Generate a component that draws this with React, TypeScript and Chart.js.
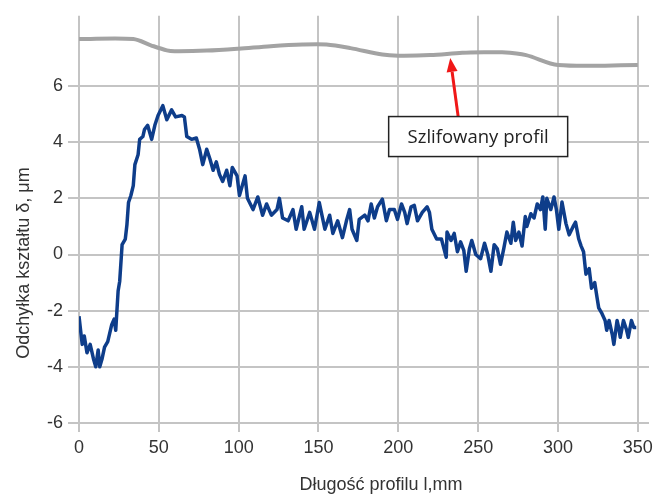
import { useEffect, useRef } from 'react';
import { Chart, registerables } from 'chart.js';

Chart.register(...registerables);

// Measured profile (blue) – position along profile [mm] and deviation [µm]
const profileX = [
  0, 2, 3.3, 5, 7, 9, 10.5, 12, 13, 14.5, 16, 18, 20.5, 22, 23, 24.5, 25.5, 27, 29, 30,
  31, 32.5, 34, 35, 37, 38, 40, 41, 43, 45.5, 47.5, 49.5, 52.5, 55, 58, 60.5, 64.5, 66, 67.5, 70.5,
  73.5, 75.5, 77.5, 80, 82, 84, 86, 88, 90, 92.5, 94.5, 96, 99, 100.5, 104, 105.5, 109, 112, 115, 117.5,
  120.5, 124, 125.5, 127.5, 131, 134, 136, 139.5, 141, 144.5, 147.5, 150.5, 154, 157, 159, 162, 165, 167.5, 169.5, 171,
  174, 175.5, 179, 181, 183, 185, 187, 190, 192.5, 194.5, 197.5, 199.5, 202, 204, 205.5, 208, 210, 212, 215, 218,
  219.5, 221, 224, 227, 230, 230.5, 233, 235, 237, 239, 241, 242.5, 244.5, 246, 248.5, 251.5, 254, 256, 258, 260,
  262, 264, 266, 268, 270.5, 272, 273.5, 275.5, 277.5, 279.5, 280.5, 283, 285, 287, 289, 290.5, 292, 293, 295.5, 297.5,
  299, 300.5, 302.5, 305, 307, 309.5, 311, 313, 314.5, 316, 317.5, 319.5, 321, 323, 324.5, 325.5, 327.5, 329.5, 330.5, 332,
  334, 335, 337, 338, 339, 341, 343, 344, 346, 347.5, 349,
];
const profileY = [
  -2.2, -3.2, -2.9, -3.5, -3.2, -3.7, -4.0, -3.4, -4.0, -3.7, -3.3, -3.1, -2.5, -2.3, -2.7, -1.3, -0.95, 0.35, 0.55, 1.05,
  1.85, 2.1, 2.45, 3.2, 3.55, 4.1, 4.2, 4.45, 4.6, 4.1, 4.6, 4.95, 5.3, 4.8, 5.15, 4.9, 4.95, 4.9, 4.2, 4.1,
  4.15, 3.75, 3.2, 3.75, 3.4, 3.0, 3.3, 2.85, 2.6, 3.0, 2.45, 3.1, 2.8, 2.1, 2.8, 2.0, 1.6, 2.05, 1.4, 1.8,
  1.4, 1.6, 2.0, 1.3, 1.2, 1.6, 0.9, 1.7, 0.9, 1.5, 0.9, 1.85, 0.9, 1.4, 0.75, 1.2, 0.6, 1.2, 1.6, 0.9,
  0.5, 1.25, 1.4, 1.2, 1.8, 1.3, 1.7, 1.97, 1.2, 1.6, 1.6, 1.25, 1.8, 1.5, 1.1, 1.7, 1.75, 1.2, 1.5, 1.7,
  1.5, 0.9, 0.55, 0.55, -0.1, 0.8, 0.5, 0.75, 0.1, 0.45, 0.15, -0.6, 0.2, 0.5, 0.0, -0.15, 0.4, 0.0, -0.6, 0.35,
  0.2, -0.35, 0.2, 0.8, 0.4, 1.15, 0.5, 0.8, 0.3, 1.35, 1.0, 1.45, 1.3, 1.8, 1.6, 2.05, 0.9, 2.0, 1.6, 2.05,
  1.6, 0.9, 1.87, 1.1, 0.7, 1.0, 1.15, 0.55, 0.3, 0.1, -0.7, -0.5, -1.2, -1.0, -1.55, -1.9, -2.1, -2.35, -2.7, -2.35,
  -2.85, -3.2, -2.35, -2.6, -2.95, -2.35, -2.7, -2.95, -2.35, -2.6, -2.6,
];

// Ground profile (grey)
const groundX = [0, 34, 45, 55, 60, 80, 100, 120, 140, 155, 170, 190, 200, 220, 240, 255, 265, 280, 300, 350];
const groundY = [7.67, 7.67, 7.45, 7.27, 7.24, 7.26, 7.33, 7.42, 7.48, 7.48, 7.35, 7.12, 7.08, 7.1, 7.18, 7.2, 7.2, 7.1, 6.75, 6.75];

const xTitle = 'Długość profilu l,mm';
const yTitle = 'Odchyłka kształtu δ, μm';
const noteText = 'Szlifowany profil';
const noteCenter = { x: 250, y: 4.2 };
const arrowFrom = { x: 237.5, y: 4.9 };
const arrowTo = { x: 232.5, y: 7.0 };

const FONT = '"Liberation Sans", Arial, sans-serif';
const TEXT = '#333333';
const GRID = '#c4c4c4';

const overlayPlugin = {
  id: 'overlay',
  afterDraw(chart: any) {
    const { ctx, scales } = chart;
    const xs = scales.x;
    const ys = scales.y;
    ctx.save();
    // Axis titles
    ctx.fillStyle = TEXT;
    ctx.font = `18px ${FONT}`;
    ctx.textAlign = 'center';
    ctx.textBaseline = 'middle';
    ctx.fillText(xTitle, 381, 485);
    ctx.save();
    ctx.translate(24, 263);
    ctx.rotate(-Math.PI / 2);
    ctx.fillText(yTitle, 0, 0);
    ctx.restore();

    // Arrow
    const x1 = xs.getPixelForValue(arrowFrom.x);
    const y1 = ys.getPixelForValue(arrowFrom.y);
    const x2 = xs.getPixelForValue(arrowTo.x);
    const y2 = ys.getPixelForValue(arrowTo.y);
    const ang = Math.atan2(y2 - y1, x2 - x1);
    const headLen = 14;
    const headW = 5.5;
    const bx = x2 - headLen * Math.cos(ang);
    const by = y2 - headLen * Math.sin(ang);
    ctx.strokeStyle = '#f01818';
    ctx.fillStyle = '#f01818';
    ctx.lineWidth = 3;
    ctx.beginPath();
    ctx.moveTo(x1, y1);
    ctx.lineTo(bx, by);
    ctx.stroke();
    ctx.beginPath();
    ctx.moveTo(x2, y2);
    ctx.lineTo(bx + headW * Math.sin(ang), by - headW * Math.cos(ang));
    ctx.lineTo(bx - headW * Math.sin(ang), by + headW * Math.cos(ang));
    ctx.closePath();
    ctx.fill();

    // Note box
    const cx = xs.getPixelForValue(noteCenter.x);
    const cy = ys.getPixelForValue(noteCenter.y);
    const w = 179;
    const h = 40;
    ctx.fillStyle = '#ffffff';
    ctx.fillRect(cx - w / 2, cy - h / 2, w, h);
    ctx.strokeStyle = '#222222';
    ctx.lineWidth = 1.5;
    ctx.strokeRect(cx - w / 2, cy - h / 2, w, h);
    ctx.fillStyle = '#222222';
    ctx.font = '18.5px "Open Sans", "Noto Sans", sans-serif';
    ctx.textAlign = 'center';
    ctx.textBaseline = 'middle';
    ctx.fillText(noteText, cx, cy + 1);
    ctx.restore();
  },
};

export default function App() {
  const ref = useRef<HTMLCanvasElement>(null);
  useEffect(() => {
    if (!ref.current) return;
    const chart = new Chart(ref.current, {
      type: 'line',
      data: {
        datasets: [
          {
            data: groundX.map((x, i) => ({ x, y: groundY[i] })),
            borderColor: '#a3a3a3',
            borderWidth: 4,
            pointRadius: 0,
            tension: 0.3,
          },
          {
            data: profileX.map((x, i) => ({ x, y: profileY[i] })),
            borderColor: '#0e3d8a',
            borderWidth: 3.5,
            borderJoinStyle: 'round',
            pointRadius: 0,
            tension: 0,
          },
        ],
      },
      options: {
        responsive: false,
        animation: false,
        layout: { padding: { top: 13, right: 8, left: 0, bottom: 0 } },
        plugins: { legend: { display: false }, tooltip: { enabled: false } },
        scales: {
          x: {
            type: 'linear',
            min: 0,
            max: 357,
            ticks: { stepSize: 50, includeBounds: false, color: TEXT, font: { family: FONT, size: 18 }, padding: 5, maxRotation: 0 },
            grid: { color: GRID, lineWidth: 2, tickLength: 9 },
            border: { display: false },
            afterFit: (s: any) => { s.height = 73; },
          },
          y: {
            type: 'linear',
            min: -6,
            max: 8.5,
            ticks: { stepSize: 2, includeBounds: false, color: TEXT, font: { family: FONT, size: 18 }, padding: 5 },
            grid: { color: GRID, lineWidth: 2, tickLength: 11 },
            border: { display: false },
            afterBuildTicks: (s: any) => { s.ticks = s.ticks.filter((t: any) => t.value <= 6); },
            afterFit: (s: any) => { s.width = 79; },
          },
        },
      } as any,
      plugins: [overlayPlugin],
    });
    return () => chart.destroy();
  }, []);
  return (
    <div style={{ position: 'fixed', left: 0, top: 0, width: 658, height: 496, background: '#fff' }}>
      <canvas ref={ref} width={658} height={496} style={{ display: 'block' }} />
    </div>
  );
}
